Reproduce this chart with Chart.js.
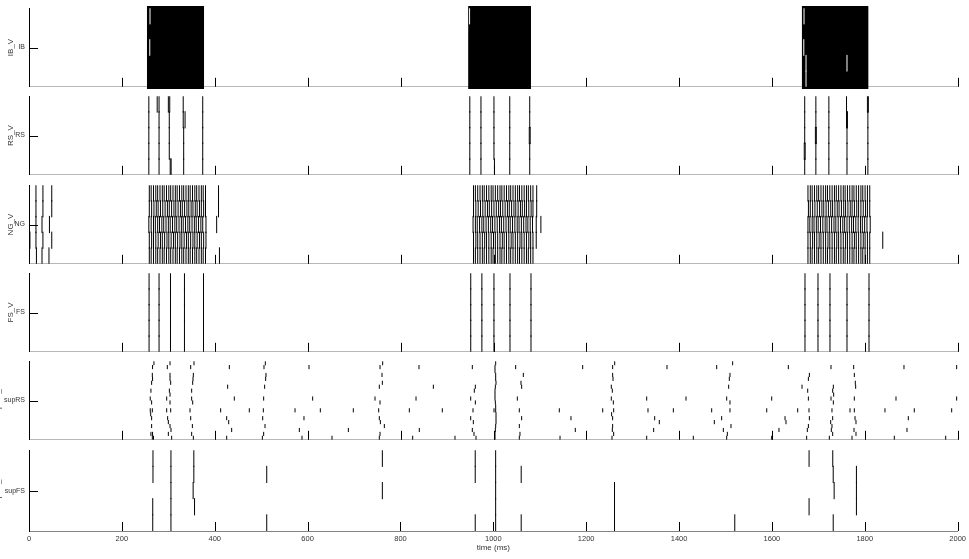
<!DOCTYPE html>
<html><head><meta charset="utf-8">
<script src="https://cdn.jsdelivr.net/npm/chart.js@4.4.1/dist/chart.umd.min.js"></script>
<style>
html,body{margin:0;padding:0;background:#fff;}
#wrap{position:relative;width:969px;height:559px;overflow:hidden;background:#fff;}
#wrap canvas{position:absolute;left:0;}
</style></head><body><div id="wrap"></div>
<script>
// ---------------- DATA (spike times in ms, rows numbered from the top) ----------------
const xTicks = [0, 200, 400, 600, 800, 1000, 1200, 1400, 1600, 1800, 2000];
const panelTitles = ['IB_V', 'RS_V', 'NG_V', 'FS_V', 'supRS_V', 'supFS_V'];
const panelLabels = ['IB', 'RS', 'NG', 'FS', 'supRS', 'supFS'];
const panelRows = [5, 5, 5, 5, 20, 5];

// IB: bursts so dense they read as solid blocks (start / end of each block)
const ibBurstStart = [254, 945.5, 1664];
const ibBurstEnd = [376.8, 1080.7, 1807];
const ibGapTimes = [260.5, 260, 948.5, 1668.5, 1668, 1672.8, 1672.8, 1761];
const ibGapRows = [1, 3, 1, 1, 3, 4, 5, 4];

// RS
const rsRow1 = [258, 276, 280, 300, 303, 332, 374, 949, 973, 1001, 1035, 1078, 1670, 1694, 1722, 1760, 1805, 1807];
const rsRow2 = [258, 280, 302, 332, 336, 374, 949, 973, 1001, 1035, 1078, 1670, 1694, 1722, 1760, 1762, 1806];
const rsRow3 = [258, 280, 302, 333, 374, 949, 973, 1001, 1035, 1077, 1079, 1670, 1693, 1695, 1722, 1761, 1806];
const rsRow4 = [258, 280, 302, 333, 374, 949, 973, 1001, 1035, 1078, 1669, 1671, 1694, 1722, 1761, 1806];
const rsRow5 = [258, 280, 304, 306, 333, 374, 949, 973, 1002, 1035, 1078, 1670, 1694, 1722, 1761, 1806];

// NG
const ngRow1 = [1, 15, 30, 49,
  259, 263, 268, 273, 277, 282, 287, 291, 296, 301, 305, 310, 315, 319, 324, 329, 333, 338, 343, 347, 352, 357, 361, 366, 371, 375, 380, 408,
  957, 961, 966, 971, 976, 980, 985, 990, 995, 999, 1004, 1009, 1014, 1018, 1023, 1028, 1033, 1037, 1042, 1047, 1052, 1056, 1061, 1066, 1071, 1075, 1080, 1085, 1093,
  1677, 1682, 1686, 1691, 1696, 1700, 1705, 1710, 1715, 1719, 1724, 1729, 1734, 1738, 1743, 1748, 1753, 1757, 1762, 1767, 1772, 1776, 1781, 1786, 1791, 1795, 1800, 1805, 1810];
const ngRow2 = [1, 15, 30, 49,
  259, 264, 269, 274, 278, 283, 288, 293, 298, 302, 307, 312, 316, 321, 326, 330, 335, 340, 344, 349, 353, 358, 362, 367, 371, 376, 380, 408,
  957, 962, 967, 972, 977, 982, 987, 991, 996, 1001, 1006, 1011, 1015, 1020, 1025, 1030, 1034, 1039, 1044, 1048, 1053, 1058, 1062, 1067, 1071, 1076, 1081, 1085, 1093,
  1678, 1682, 1687, 1692, 1697, 1702, 1707, 1711, 1716, 1721, 1726, 1730, 1735, 1740, 1744, 1749, 1754, 1758, 1763, 1768, 1772, 1777, 1782, 1786, 1791, 1796, 1801, 1805, 1810];
const ngRow3 = [1, 15, 28, 44,
  258, 263, 268, 272, 277, 281, 286, 290, 295, 300, 304, 309, 314, 318, 323, 328, 332, 337, 342, 346, 351, 356, 360, 365, 370, 374, 381, 404,
  956, 961, 965, 970, 975, 979, 984, 989, 994, 998, 1003, 1008, 1013, 1017, 1022, 1027, 1032, 1036, 1041, 1046, 1051, 1055, 1060, 1065, 1070, 1074, 1079, 1084, 1092, 1102,
  1677, 1681, 1686, 1690, 1695, 1699, 1704, 1709, 1714, 1718, 1723, 1728, 1733, 1737, 1742, 1747, 1752, 1756, 1761, 1766, 1771, 1775, 1780, 1785, 1790, 1794, 1799, 1804, 1811];
const ngRow4 = [2, 15, 30, 49,
  259, 264, 268, 273, 278, 283, 287, 292, 297, 301, 306, 311, 315, 320, 325, 329, 334, 339, 343, 348, 353, 357, 362, 367, 371, 376, 381,
  957, 962, 966, 971, 976, 981, 985, 990, 995, 1000, 1004, 1009, 1014, 1019, 1023, 1028, 1033, 1038, 1042, 1047, 1052, 1057, 1061, 1066, 1071, 1076, 1080, 1085, 1092,
  1677, 1682, 1687, 1691, 1696, 1701, 1705, 1710, 1715, 1720, 1724, 1729, 1734, 1739, 1743, 1748, 1753, 1758, 1762, 1767, 1772, 1777, 1781, 1786, 1791, 1796, 1800, 1805, 1810, 1838];
const ngRow5 = [1, 16, 28, 43,
  259, 263, 268, 273, 277, 282, 287, 291, 296, 301, 305, 310, 315, 319, 324, 329, 333, 338, 343, 347, 352, 357, 361, 366, 371, 375, 380, 410,
  957, 961, 966, 971, 976, 980, 985, 990, 995, 999, 1004, 1009, 1014, 1018, 1023, 1028, 1033, 1037, 1042, 1047, 1052, 1056, 1061, 1066, 1071, 1075, 1080, 1085,
  1677, 1682, 1686, 1691, 1696, 1700, 1705, 1710, 1715, 1719, 1724, 1729, 1734, 1738, 1743, 1748, 1753, 1757, 1762, 1767, 1772, 1776, 1781, 1786, 1791, 1795, 1800, 1805, 1810];

// FS (all five cells fire together)
const fsTimes = [258.5, 280, 304.6, 334.7, 375.7, 951, 975, 1001, 1035.5, 1080.7, 1670.6, 1698.6, 1724.4, 1761, 1808.4];

// supRS (20 cells)
const supRSTimes = [
  269, 266, 265.5, 266, 264, 262.5, 261, 264, 261, 265.5, 262, 264, 264, 262.5, 266, 265.5, 268,
  303.6, 297.8, 303.6, 303.6, 305, 302.2, 303.6, 296.4, 303.6, 296.4, 305, 298.5, 300, 303.6, 305.7, 300, 307.1,
  355.2, 348.1, 353.8, 353.1, 352.4, 350.2, 350.2, 352.4, 346.6, 348.1, 351.7, 350.2, 353.8,
  431.3, 427.7, 442, 412.6, 474.3, 425.6, 429.9, 436.3, 425.6,
  508.8, 505.9, 510.2, 509.5, 507.3, 505.2, 504.5, 503.1, 508.1, 505.2, 502.4,
  572.7, 582, 587.7, 592, 602.8, 610.7, 627.2, 652.3, 687.5, 698.2,
  761.4, 755.7, 760, 760.7, 754.2, 744.9, 755.7, 752.8, 754.2, 756.4, 765, 755.7, 754.2,
  818.8, 826, 833.2, 839.6, 840.3, 870.5, 889.8, 917.1,
  954.4, 960.9, 958.7, 950.9, 960.9, 955.9, 950.9, 956.6, 954.4, 958, 962.3,
  1004.7, 1003.2, 1003.2, 1004.7, 1004.7, 1005.4, 1004, 1003.2, 1003.2, 1003.2, 1004, 1004.7, 1001.1, 1004.7, 1005.4, 1005.4, 1005.4, 1004.7, 1004, 1003.2, 1003.2,
  1047.7, 1064.2, 1059.2, 1060.6, 1051.3, 1055.6, 1060.6, 1055.6, 1057, 1055.6,
  1141.7, 1143.2, 1166.8, 1176.1, 1192, 1235.1,
  1260.9, 1256.5, 1256.5, 1257.3, 1253.6, 1255.8, 1253.6, 1258, 1258.7, 1254.3, 1256.5, 1256.5, 1255.8, 1258.7, 1255.1,
  1329.8, 1329.8, 1332.6, 1344.8, 1347, 1357, 1373.5, 1387.2, 1414.4, 1430.2,
  1469.7, 1475.4, 1480.5, 1491.2, 1494.8, 1502, 1502, 1503.4, 1506.3, 1507.7, 1509.1, 1509.1, 1509.1, 1511.3, 1514.9,
  1588.2, 1598.9, 1598.9, 1614.6, 1627.6, 1629.7, 1634.7, 1654.9,
  1664.2, 1674.2, 1675.6, 1676.4, 1677.9, 1677.9, 1677.9, 1679.2, 1680, 1680,
  1723, 1725.9, 1726.6, 1726.6, 1727.3, 1728.7, 1728.7, 1730.2, 1730.2, 1730.2, 1731.6, 1731.6, 1732.3,
  1767.5, 1771.8, 1775.4, 1776.1, 1776.8, 1776.8, 1776.8, 1778.3, 1778.9, 1779.7, 1780.4, 1780.4,
  1842.8, 1862.9, 1866.5, 1883.7, 1890.2, 1893, 1905.9, 1973.5, 1986.4, 1997.1, 1997.1];
const supRSRows = [
  1, 2, 4, 5, 6, 8, 10, 11, 13, 13, 14, 15, 17, 19, 19, 20, 20,
  1, 2, 4, 5, 6, 8, 9, 10, 11, 13, 13, 15, 16, 17, 18, 19, 20,
  1, 2, 4, 5, 6, 8, 10, 11, 13, 15, 17, 19, 20,
  2, 7, 10, 13, 13, 15, 16, 18, 20,
  1, 2, 4, 5, 7, 10, 13, 15, 17, 19, 20,
  13, 18, 20, 15, 2, 10, 13, 20, 18, 13,
  1, 2, 4, 6, 7, 10, 11, 13, 15, 16, 17, 19, 20,
  13, 20, 10, 2, 18, 7, 13, 20,
  2, 7, 8, 10, 11, 13, 15, 16, 18, 19, 20,
  1, 2, 3, 4, 5, 6, 7, 8, 9, 10, 11, 12, 13, 13, 14, 15, 16, 17, 18, 19, 20,
  2, 4, 6, 7, 10, 13, 15, 17, 19, 20,
  13, 20, 15, 18, 2, 13,
  1, 2, 4, 5, 7, 8, 10, 11, 13, 14, 15, 17, 18, 19, 20,
  10, 20, 13, 18, 15, 16, 2, 13, 10, 20,
  13, 16, 2, 15, 18, 10, 20, 19, 7, 5, 4, 11, 13, 17, 1,
  13, 10, 20, 18, 15, 16, 2, 13,
  7, 20, 18, 8, 5, 10, 17, 13, 4, 15,
  20, 16, 2, 10, 18, 13, 17, 8, 15, 19, 7, 11, 9,
  13, 20, 2, 18, 4, 10, 13, 15, 6, 7, 16, 19,
  13, 20, 10, 2, 18, 15, 13, 20, 13, 2, 10];

// supFS
const supFSTimes = [267, 267, 266.5, 266.5, 305.7, 305.7, 305.7, 305.7, 305.7, 355, 355, 353.5, 356.5, 512, 512, 761, 761,
  961, 961, 961, 1005, 1005, 1005, 1005, 1005, 1060, 1060, 1261, 1261, 1261, 1520, 1680, 1680, 1731, 1732, 1734, 1732, 1782, 1782, 1782];
const supFSRows = [1, 2, 4, 5, 1, 2, 3, 4, 5, 1, 2, 3, 4, 2, 5, 1, 3,
  1, 2, 5, 1, 2, 3, 4, 5, 2, 5, 3, 4, 5, 5, 1, 4, 1, 2, 3, 5, 2, 3, 4];

// ---------------- LAYOUT ----------------
const PANEL_TOPS = [6, 94, 183, 271, 359, 448];
const PANEL_H = 83;
const PAD = 6;
const FONT = '"Liberation Sans", Arial, Helvetica, sans-serif';
const TXT = '#333333';
Chart.defaults.font.family = FONT;

function fromRows(rowLists) {
  const pts = [];
  rowLists.forEach((ts, i) => ts.forEach(t => pts.push({x: t, y: i + 1})));
  return pts;
}
function fromPairs(times, rows) { return times.map((t, i) => ({x: t, y: rows[i]})); }
function spikes(points, n, color, order, extra) {
  const r = PANEL_H / n / 2 + (extra || 0);
  return { type: 'scatter', data: points, order: order || 0,
    pointStyle: 'line', pointRotation: 90, pointRadius: r, pointHoverRadius: r,
    pointBorderWidth: 1, pointBorderColor: color, pointBackgroundColor: color };
}

const inwardTicks = {
  id: 'inwardTicks',
  afterDatasetsDraw(chart) {
    const {ctx, chartArea: a, scales: {x, y}} = chart;
    ctx.save();
    ctx.strokeStyle = '#000'; ctx.lineWidth = 1;
    ctx.beginPath();
    x.ticks.forEach(t => {
      const px = Math.round(x.getPixelForValue(t.value)) + 0.5;
      ctx.moveTo(px, a.bottom); ctx.lineTo(px, a.bottom - 9);
    });
    y.ticks.forEach(t => {
      const py = Math.round(y.getPixelForValue(t.value)) + 0.5;
      ctx.moveTo(a.left, py); ctx.lineTo(a.left + 9, py);
    });
    ctx.stroke();
    ctx.restore();
  }
};

const fsRows = [fsTimes, fsTimes, fsTimes, fsTimes, fsTimes];
const panelData = [
  [spikes(fromPairs(ibGapTimes, ibGapRows), 5, '#ffffff', 0)].concat(
    ibBurstStart.map((s, i) => ({ type: 'line', order: 1, data: [{x: s, y: 3}, {x: ibBurstEnd[i], y: 3}],
      borderColor: '#000', borderWidth: PANEL_H, borderCapStyle: 'butt', pointRadius: 0, clip: false }))),
  [spikes(fromRows([rsRow1, rsRow2, rsRow3, rsRow4, rsRow5]), 5, '#000', 0, 0.3)],
  [spikes(fromRows([ngRow1, ngRow2, ngRow3, ngRow4, ngRow5]), 5, '#000', 0, 0.3)],
  [spikes(fromRows(fsRows), 5, '#000', 0, 0.3)],
  [spikes(fromPairs(supRSTimes, supRSRows), 20, '#000')],
  [spikes(fromPairs(supFSTimes, supFSRows), 5, '#000', 0, 0.3)]
];
const titlePads = [6.2, 6.2, 6.2, 6.2, -6.8, -6.8];

const wrap = document.getElementById('wrap');
PANEL_TOPS.forEach((pt, idx) => {
  const last = idx === PANEL_TOPS.length - 1;
  const top = pt - PAD;
  const h = last ? 559 - top : PANEL_H + 2 * PAD;
  const n = panelRows[idx];
  const cv = document.createElement('canvas');
  cv.width = 969; cv.height = h;
  cv.style.top = top + 'px'; cv.style.width = '969px'; cv.style.height = h + 'px';
  wrap.appendChild(cv);
  new Chart(cv, {
    type: 'scatter',
    data: { datasets: panelData[idx] },
    options: {
      responsive: false, animation: false, events: [], devicePixelRatio: 1,
      layout: { autoPadding: false, padding: { left: 0, right: 11, top: PAD, bottom: last ? 0 : PAD } },
      plugins: { legend: { display: false }, tooltip: { enabled: false } },
      scales: {
        x: {
          type: 'linear', min: 0, max: 2000,
          afterBuildTicks: s => { s.ticks = xTicks.map(v => ({value: v})); },
          ticks: { display: last, padding: 3, maxRotation: 0, autoSkip: false, color: TXT, font: { size: 7.5 },
                   callback: v => String(v) },
          grid: { drawOnChartArea: false, drawTicks: false },
          border: { color: last ? '#858585' : '#b8b8b8', width: 1 },
          title: { display: last, text: 'time (ms)', color: TXT, font: { size: 8 }, padding: { top: 0, bottom: 6 } },
          afterFit: s => { s.height = last ? h - PAD - PANEL_H : 0; }
        },
        y: {
          type: 'linear', reverse: true, min: 0.5, max: n + 0.5,
          afterBuildTicks: s => { s.ticks = [{value: (n + 1) / 2}]; },
          ticks: { callback: () => panelLabels[idx], padding: 4, color: TXT, font: { size: 7 } },
          grid: { drawOnChartArea: false, drawTicks: false },
          border: { color: '#000', width: 1 },
          title: { display: true, text: panelTitles[idx], color: TXT, font: { size: 8 }, padding: { top: titlePads[idx], bottom: 0 } },
          afterFit: s => { s.width = 29; }
        }
      }
    },
    plugins: [inwardTicks]
  });
});
</script></body></html>
